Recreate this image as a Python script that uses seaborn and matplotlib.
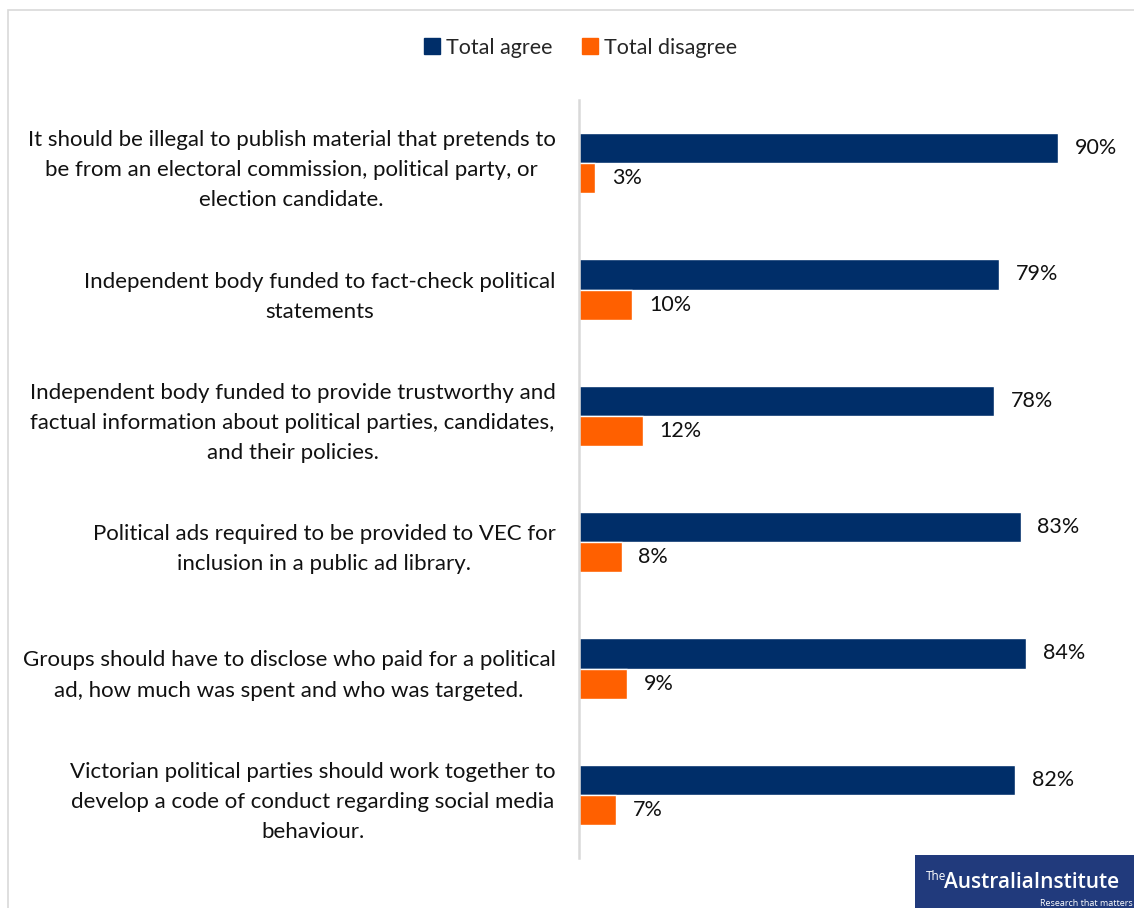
import matplotlib
matplotlib.use("Agg")
import matplotlib.pyplot as plt
from matplotlib.patches import Rectangle
from matplotlib.lines import Line2D
import seaborn as sns
import pandas as pd

statements = [
    "It should be illegal to publish material that pretends to\nbe from an electoral commission, political party, or\nelection candidate.",
    "Independent body funded to fact-check political\nstatements",
    "Independent body funded to provide trustworthy and\nfactual information about political parties, candidates,\nand their policies.",
    "Political ads required to be provided to VEC for\ninclusion in a public ad library.",
    "Groups should have to disclose who paid for a political\nad, how much was spent and who was targeted.",
    "Victorian political parties should work together to\ndevelop a code of conduct regarding social media\nbehaviour.",
]
series_names = ["Total agree", "Total disagree"]
agree = [90, 79, 78, 83, 84, 82]
disagree = [3, 10, 12, 8, 9, 7]
colors = ["#002E69", "#FF6000"]

df = pd.DataFrame({
    "statement": statements * 2,
    "series": [series_names[0]] * len(statements) + [series_names[1]] * len(statements),
    "value": agree + disagree,
})

sns.set_theme(style="white")
plt.rcParams["font.family"] = ["Lato", "DejaVu Sans"]

W, H = 1134, 908
fig = plt.figure(figsize=(W / 100, H / 100), dpi=100)
ax = fig.add_axes([579 / W, 1 - 858 / H, 532 / W, 758 / H])

sns.barplot(data=df, y="statement", x="value", hue="series", order=statements,
            hue_order=series_names, palette=colors, orient="h", width=0.476,
            gap=0, saturation=1, ax=ax, legend=False)

ax.set_xlim(0, 100)
ax.set_ylim(5.5, -0.5)
ax.set_xlabel("")
ax.set_ylabel("")
ax.set_xticks([])
for s in ["top", "right", "bottom"]:
    ax.spines[s].set_visible(False)
ax.spines["left"].set_color("#d9d9d9")
ax.spines["left"].set_linewidth(1.8)
ax.tick_params(axis="y", length=0, pad=17)
for lab in ax.get_yticklabels():
    lab.set_fontsize(16)
    lab.set_color("#111111")
    lab.set_multialignment("center")
    lab.set_linespacing(1.63)

for container, vals in zip(ax.containers, [agree, disagree]):
    ax.bar_label(container, labels=[f"{v}%" for v in vals], padding=12,
                 fontsize=15.5, color="#111111")

handles = [Line2D([0], [0], marker="s", linestyle="", markersize=12,
                  markerfacecolor=c, markeredgecolor=c) for c in colors]
fig.legend(handles, series_names, loc="center", bbox_to_anchor=(580 / W, 1 - 48 / H),
           ncol=2, frameon=False, fontsize=15.5, handletextpad=0.2,
           columnspacing=1.3, handlelength=0.9)

# outer frame
fig.add_artist(Rectangle((8 / W, -0.05), 1.2, 1 - 10 / H + 0.05,
                         transform=fig.transFigure, fill=False,
                         edgecolor="#d9d9d9", linewidth=1.2))

# publisher badge
fig.add_artist(Rectangle((915 / W, 0), (W - 915) / W, 53 / H,
                         transform=fig.transFigure, facecolor="#213A7C",
                         edgecolor="none"))
fig.text(926 / W, 1 - 876 / H, "The", color="white", fontsize=8.5,
         ha="left", va="center", family="Open Sans")
fig.text(944 / W, 1 - 882 / H, "AustraliaInstitute", color="white", fontsize=15,
         fontweight="semibold", ha="left", va="center", family="Open Sans")
fig.text(1133 / W, 1 - 904 / H, "Research that matters", color="white", fontsize=6.5,
         ha="right", va="center", family="Open Sans")

fig.savefig("out.png", dpi=100)
